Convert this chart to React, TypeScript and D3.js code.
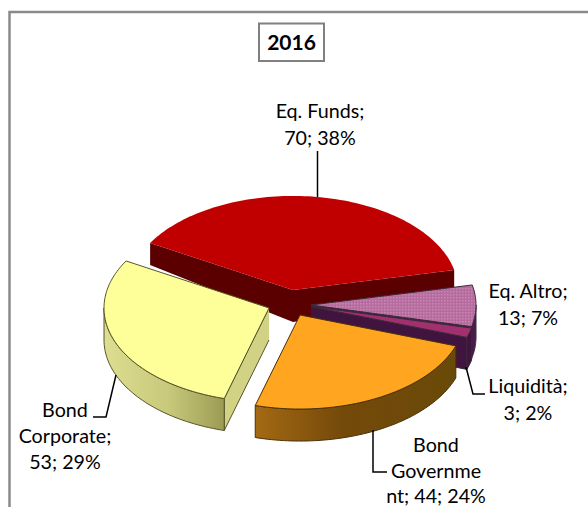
import React from "react";
import * as d3 from "d3";

const categories = ["Eq. Funds", "Eq. Altro", "Liquidità", "Bond Government", "Bond Corporate"];
const values = [70, 13, 3, 44, 53];
const labelLines = [
  ["Eq. Funds;", "70; 38%"],
  ["Eq. Altro;", "13; 7%"],
  ["Liquidità;", "3; 2%"],
  ["Bond", "Governme", "nt; 44; 24%"],
  ["Bond", "Corporate;", "53; 29%"],
];

const W = 588, H = 507;
const R = 165, K = 0.57;
const START = (-60 * Math.PI) / 180;
const apexes: [number, number][] = [[293, 290], [311, 305], [311, 306.5], [300, 315], [269, 308]];
const topFill = ["#C00000", "url(#dots)", "#A2306F", "#FFA51F", "#FFFF99"];
const faceFill = ["#5A0000", "#4A1C48", "#40143F", "#6B4608", "#D2D284"];
const edge = ["none", "#3a2a3a", "#3a2a3a", "#4a3208", "#55552a"];
const labelCenters: [number, number][] = [[320, 118], [528, 298], [528, 393], [436, 452], [65, 417]];
const lineSteps = [26.5, 26.5, 26.5, 25.7, 26];
const leaders: [number, number][][] = [
  [[317.5, 151], [317.5, 197]],
  [],
  [[466, 367], [473, 394], [485, 394]],
  [[373, 430], [373, 472], [387, 472]],
  [[116, 375], [106, 417], [93, 417]],
];
// which cut faces of each slice can be seen: s = start, e = end
const visibleFaces = [["s", "e"], ["e"], ["e"], [], ["s"]];

const depth = d3.scaleLinear().domain([243, 290]).range([22, 32]).clamp(true);
const pieGen = d3.pie<number>().sort(null).startAngle(START).endAngle(START + 2 * Math.PI);
const arcs = pieGen(values);

const pt = (a: [number, number], t: number): [number, number] => [a[0] + R * Math.sin(t), a[1] - R * K * Math.cos(t)];
const drop = (p: [number, number]): [number, number] => [p[0], p[1] + depth(p[1])];
const line = d3.line();

function arcPts(a: [number, number], t0: number, t1: number) {
  const n = Math.max(2, Math.ceil(Math.abs(t1 - t0) * 40));
  return d3.range(n + 1).map((i) => pt(a, t0 + ((t1 - t0) * i) / n));
}

function Slice({ i }: { i: number }) {
  const d = arcs[i];
  const a = apexes[i];
  const t0 = d.startAngle, t1 = d.endAngle;
  const parts: React.ReactNode[] = [];
  visibleFaces[i].forEach((f) => {
    const o = pt(a, f === "s" ? t0 : t1);
    parts.push(
      <path key={f} d={line([a, o, drop(o), drop(a)]) as string} fill={faceFill[i]} stroke={edge[i]} strokeWidth={1} strokeLinejoin="round" />
    );
  });
  // outer wall: the part of the rim facing the viewer (between 90° and 270°)
  const lo = Math.max(t0, Math.PI / 2), hi = Math.min(t1, (3 * Math.PI) / 2);
  if (hi > lo) {
    const rim = arcPts(a, lo, hi);
    const wall = [...rim, ...rim.slice().reverse().map(drop)];
    const fill = i === 3 ? "url(#govSide)" : i === 4 ? "url(#corpSide)" : faceFill[i];
    parts.push(<path key="w" d={(line(wall) as string) + "Z"} fill={fill} stroke={edge[i]} strokeWidth={1} strokeLinejoin="round" />);
  }
  const top = [a, ...arcPts(a, t0, t1)];
  parts.push(<path key="t" d={(line(top) as string) + "Z"} fill={topFill[i]} stroke={edge[i]} strokeWidth={1} strokeLinejoin="round" />);
  return <g>{parts}</g>;
}

export default function App() {
  const font = "Lato, Carlito, sans-serif";
  return (
    <svg width={W} height={H} viewBox={`0 0 ${W} ${H}`} style={{ position: "absolute", left: 0, top: 0, background: "#fff", display: "block" }}>
      <defs>
        <pattern id="dots" width={3} height={3} patternUnits="userSpaceOnUse">
          <rect width={3} height={3} fill="#B56B9E" />
          <rect width={1.5} height={1.5} fill="#C888B2" />
        </pattern>
        <linearGradient id="govSide" gradientUnits="userSpaceOnUse" x1={253} x2={453} y1={0} y2={0}>
          <stop offset="0" stopColor="#A56A14" />
          <stop offset="0.45" stopColor="#74490A" />
          <stop offset="1" stopColor="#6A4A08" />
        </linearGradient>
        <linearGradient id="corpSide" gradientUnits="userSpaceOnUse" x1={104} x2={223} y1={0} y2={0}>
          <stop offset="0" stopColor="#DEDE92" />
          <stop offset="0.55" stopColor="#C8C87A" />
          <stop offset="1" stopColor="#9C9C55" />
        </linearGradient>
      </defs>
      <path d={`M9.5,${H} V12 H${W}`} fill="none" stroke="#8a8a8a" strokeWidth={2.5} />
      <rect x={259} y={23.5} width={65} height={37.5} fill="#fff" stroke="#808080" strokeWidth={2} />
      <text x={291.5} y={50} textAnchor="middle" fontFamily={font} fontWeight={700} fontSize={21} fill="#000">2016</text>
      {values.map((_, i) => <Slice key={categories[i]} i={i} />)}
      {leaders.map((l, i) => l.length ? <path key={i} d={line(l) as string} fill="none" stroke="#000" strokeWidth={1.5} /> : null)}
      {labelLines.map((ls, i) => (
        <g key={i}>
          {ls.map((s, j) => (
            <text key={j} x={labelCenters[i][0]} y={labelCenters[i][1] + j * lineSteps[i]} textAnchor="middle" fontFamily={font} fontSize={19.7} fill="#000">{s}</text>
          ))}
        </g>
      ))}
    </svg>
  );
}
